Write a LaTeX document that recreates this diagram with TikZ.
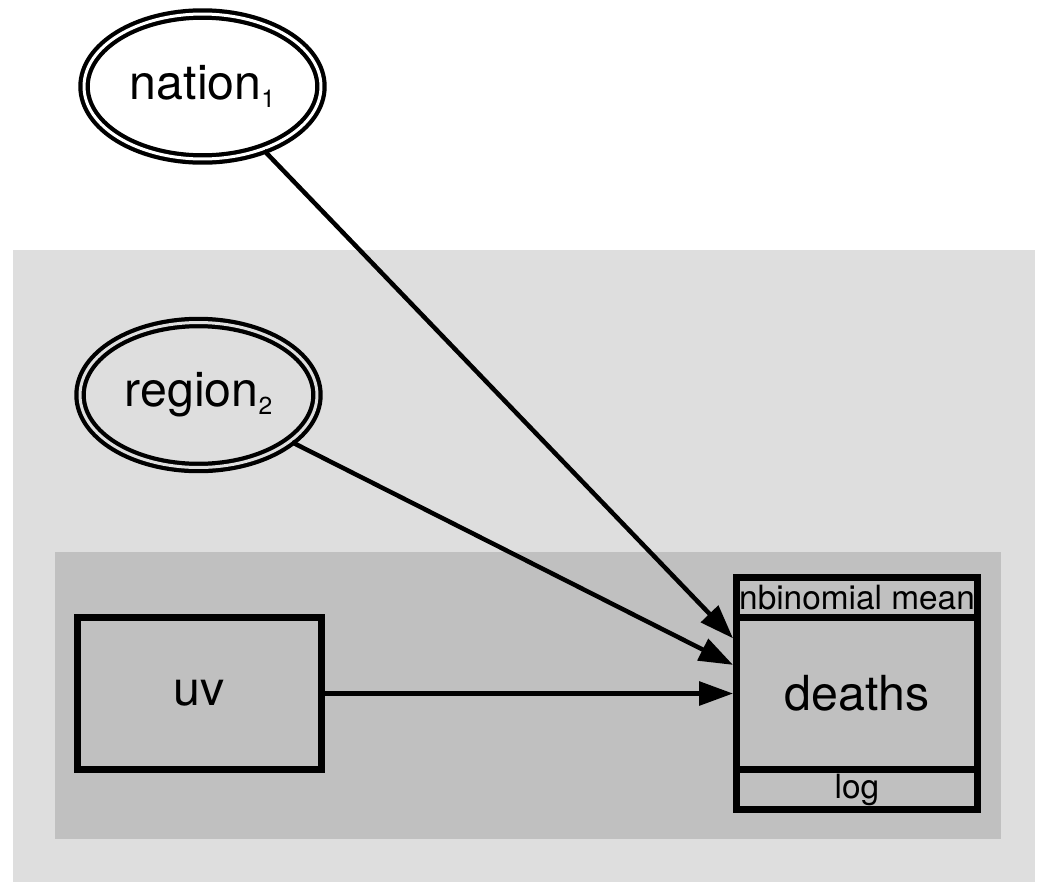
\documentclass[tikz,border=0pt]{standalone}
\usepackage{fontspec}
\setmainfont{TeX Gyre Heros}
\usetikzlibrary{arrows.meta,positioning,shapes}
\definecolor{platelight}{RGB}{222,222,222}
\definecolor{platedark}{RGB}{192,192,192}
\newcommand{\idx}[1]{\raisebox{-4.3pt}{\fontsize{14}{16}\selectfont #1}}
\tikzstyle{param}=[ellipse,draw=black,line width=0.085cm,double=white,
double distance=0.06cm,minimum width=4.74cm,minimum height=2.9cm,
inner sep=0pt,font=\fontsize{27.5}{33}\selectfont]
\tikzstyle{datum}=[rectangle,draw=black,line width=0.14cm,minimum width=4.88cm,
minimum height=3.04cm,inner sep=0pt,font=\fontsize{27.5}{33}\selectfont]
\tikzstyle{stoch}=[rectangle,draw=black,line width=0.14cm,minimum width=4.82cm,
minimum height=4.64cm,inner sep=0pt,font=\fontsize{27.5}{33}\selectfont]
\tikzstyle{strip}=[rectangle,draw=black,line width=0.14cm,minimum width=4.82cm,
minimum height=0.8cm,inner sep=0pt,font=\fontsize{19}{22}\selectfont]
\tikzstyle{dep}=[->,line width=0.09cm]

\begin{document}
\begin{tikzpicture}[x=0.02cm,y=-0.02cm,>={Triangle[length=0.68cm,width=0.47cm]}]
            \useasboundingbox (0,0) rectangle (1037,886);

            % PLATES

            \fill[platelight] (13,250) rectangle (1035,882);
            \fill[platedark] (55,552) rectangle (1001,839);

            % PARAMETERS

            \node[param] (nation) at (202.5,86.5) {nation\idx{1}};
            \node[param,double=platelight] (region) at (198.5,395) {region\idx{2}};

            % DATA

            \node[datum] (uv) at (199.5,693.5) {uv};
            \node[stoch] (deaths) at (857,693.5) {deaths};
            \node[strip,below=0pt of deaths.north] (mean) {nbinomial mean};
            \node[strip,above=0pt of deaths.south] (loglink) {log};

            \path[dep] (nation) edge node {} (deaths.156.8);
            \path[dep] (region) edge node {} (deaths.167.2);
            \path[dep] (uv) edge node {} (deaths);

        \end{tikzpicture}
\end{document}
